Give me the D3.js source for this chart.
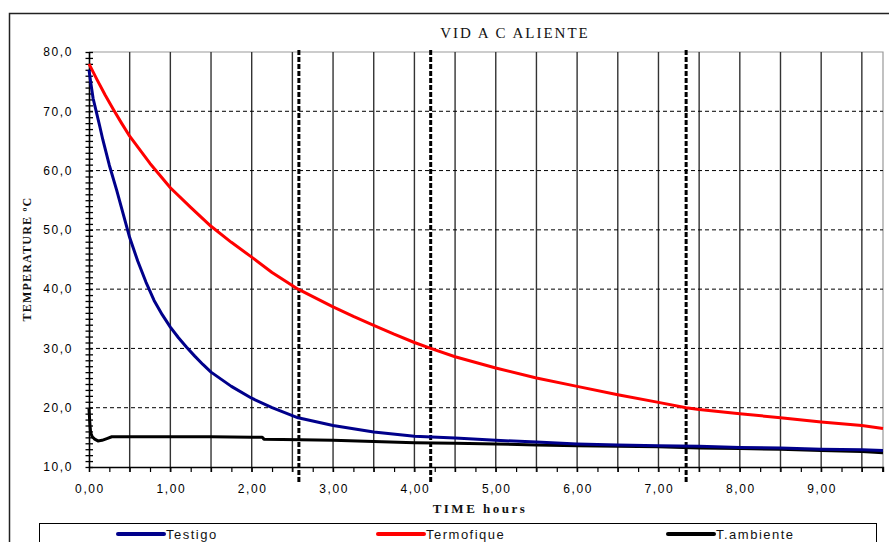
<!DOCTYPE html>
<html>
<head>
<meta charset="utf-8">
<script src="https://cdn.jsdelivr.net/npm/d3@7"></script>
<style>
  body { margin: 0; background: #fff; }
  svg { display: block; }
</style>
</head>
<body>
<svg id="chart" width="889" height="542"></svg>
<script>
const width = 889
const height = 542

// series: time in hours, temperature in ºC
const testigoTime = [0, 0.02, 0.05, 0.09, 0.13, 0.17, 0.25, 0.34, 0.42, 0.5, 0.6, 0.7, 0.8, 0.9, 1.0, 1.1, 1.2, 1.3, 1.4, 1.5, 1.75, 2.0, 2.25, 2.57, 3.0, 3.5, 4.0, 4.5, 5.0, 5.5, 6.0, 6.5, 7.0, 7.5, 8.0, 8.5, 9.0, 9.5, 9.76]
const testigo = [77.0, 75.0, 72.2, 69.9, 67.6, 65.2, 60.9, 56.7, 52.7, 48.7, 44.7, 41.2, 38.1, 35.7, 33.6, 31.8, 30.2, 28.7, 27.3, 26.0, 23.6, 21.6, 20.0, 18.3, 17.0, 15.9, 15.2, 14.9, 14.5, 14.2, 13.9, 13.7, 13.6, 13.5, 13.3, 13.2, 13.0, 12.9, 12.8]

const termofiqueTime = [0, 0.1, 0.2, 0.3, 0.4, 0.5, 0.75, 1.0, 1.25, 1.5, 1.75, 2.0, 2.25, 2.57, 3.0, 3.25, 3.5, 3.75, 4.0, 4.2, 4.5, 5.0, 5.5, 6.0, 6.5, 7.0, 7.34, 7.5, 8.0, 8.5, 9.0, 9.5, 9.76]
const termofique = [78.0, 75.3, 72.7, 70.3, 68.0, 65.8, 61.2, 57.1, 53.8, 50.6, 47.9, 45.4, 42.8, 40.0, 37.0, 35.4, 33.9, 32.4, 31.0, 30.0, 28.6, 26.7, 25.0, 23.6, 22.2, 20.9, 20.0, 19.7, 19.0, 18.3, 17.6, 17.0, 16.5]

const ambienteTime = [0, 0.01, 0.02, 0.04, 0.07, 0.11, 0.16, 0.22, 0.28, 0.5, 1.0, 1.5, 2.0, 2.13, 2.15, 2.6, 3.0, 3.5, 4.0, 4.5, 5.0, 5.5, 6.0, 6.5, 7.0, 7.5, 8.0, 8.5, 9.0, 9.5, 9.76]
const ambiente = [19.8, 17.5, 15.8, 15.1, 14.7, 14.4, 14.5, 14.8, 15.1, 15.1, 15.1, 15.1, 15.0, 15.0, 14.7, 14.6, 14.5, 14.3, 14.1, 14.0, 13.9, 13.7, 13.6, 13.5, 13.4, 13.2, 13.1, 13.0, 12.8, 12.6, 12.4]

// dashed marker lines (hours)
const markerTimes = [2.58, 4.2, 7.34]

const xLabels = [0, 1, 2, 3, 4, 5, 6, 7, 8, 9]
const yLabels = [10, 20, 30, 40, 50, 60, 70, 80]

const series = [
  { name: 'Testigo', color: '#00008b', time: testigoTime, values: testigo, legendX: 118 },
  { name: 'Termofique', color: '#ff0000', time: termofiqueTime, values: termofique, legendX: 378 },
  { name: 'T.ambiente', color: '#000000', time: ambienteTime, values: ambiente, legendX: 668 }
]

const svg = d3.select('svg#chart')

const x = d3.scaleLinear().domain([0, 9.76]).range([89, 883])
const y = d3.scaleLinear().domain([10, 80]).range([467, 52])

const comma = v => v.replace('.', ',')

// outer frame
svg.append('rect')
  .attr('x', 9.5).attr('y', 13.5)
  .attr('width', 900).attr('height', 560)
  .attr('fill', 'none').attr('stroke', '#222').attr('stroke-width', 1.5)

// plot border (top and right)
svg.append('path')
  .attr('d', `M${x(0)},${y(80)}H${x(9.76)}V${y(10)}`)
  .attr('fill', 'none').attr('stroke', '#999').attr('stroke-width', 1.2)

// vertical grid, every half hour
svg.append('g')
  .selectAll('line')
  .data(d3.range(0.5, 9.76, 0.5))
  .join('line')
  .attr('x1', d => x(d)).attr('x2', d => x(d))
  .attr('y1', y(80)).attr('y2', y(10) + 5)
  .attr('stroke', '#333').attr('stroke-width', 1.4)

// horizontal dashed grid
svg.append('g')
  .selectAll('line')
  .data(yLabels.slice(1, -1))
  .join('line')
  .attr('x1', x(0)).attr('x2', x(9.76))
  .attr('y1', d => y(d)).attr('y2', d => y(d))
  .attr('stroke', '#000').attr('stroke-width', 1)
  .attr('stroke-dasharray', '4,3')

// marker lines
svg.append('g')
  .selectAll('line')
  .data(markerTimes)
  .join('line')
  .attr('x1', d => x(d)).attr('x2', d => x(d))
  .attr('y1', y(80) - 2).attr('y2', y(10) + 16)
  .attr('stroke', '#000').attr('stroke-width', 3)
  .attr('stroke-dasharray', '5,2')

// axes
const yAxis = d3.axisLeft(y)
  .tickValues(d3.range(10, 81, 1))
  .tickSize(0)
  .tickFormat('')
const gy = svg.append('g').attr('transform', `translate(${x(0)},0)`).call(yAxis)
gy.select('.domain').attr('stroke', '#000').attr('stroke-width', 1.6)
gy.selectAll('.tick line').attr('x1', -3.5).attr('x2', 4).attr('stroke', '#000').attr('stroke-width', 1.3)

const xAxis = d3.axisBottom(x)
  .tickValues(d3.range(0, 9.76, 0.25))
  .tickSize(5)
  .tickFormat('')
const gx = svg.append('g').attr('transform', `translate(0,${y(10)})`).call(xAxis)
gx.select('.domain').attr('stroke', '#000').attr('stroke-width', 1.4)
gx.selectAll('.tick line').attr('stroke', '#000').attr('stroke-width', 1.2)

// tick labels
svg.append('g')
  .selectAll('text')
  .data(yLabels)
  .join('text')
  .attr('x', 73).attr('y', d => y(d))
  .attr('dy', '0.36em')
  .attr('text-anchor', 'end')
  .attr('font-family', 'Arial, Liberation Sans, sans-serif')
  .attr('font-size', 12)
  .attr('letter-spacing', 1.6)
  .attr('fill', '#000')
  .text(d => comma(d.toFixed(1)))

svg.append('g')
  .selectAll('text')
  .data(xLabels)
  .join('text')
  .attr('x', d => x(d) + 1).attr('y', 493)
  .attr('text-anchor', 'middle')
  .attr('font-family', 'Arial, Liberation Sans, sans-serif')
  .attr('font-size', 12)
  .attr('letter-spacing', 1.6)
  .attr('fill', '#000')
  .text(d => comma(d.toFixed(2)))

// series lines
const line = d3.line()
  .x(d => x(d[0]))
  .y(d => y(d[1]))

svg.append('g')
  .selectAll('path')
  .data(series.slice().reverse())
  .join('path')
  .attr('d', s => line(d3.zip(s.time, s.values)))
  .attr('fill', 'none')
  .attr('stroke', s => s.color)
  .attr('stroke-width', 3)
  .attr('stroke-linejoin', 'round')

// titles
svg.append('text')
  .attr('x', 515).attr('y', 38)
  .attr('text-anchor', 'middle')
  .attr('font-family', 'Liberation Serif, Times New Roman, serif')
  .attr('font-size', 15)
  .attr('letter-spacing', 2)
  .attr('fill', '#111')
  .text('VID A C ALIENTE')

svg.append('text')
  .attr('x', 480).attr('y', 513)
  .attr('text-anchor', 'middle')
  .attr('font-family', 'Liberation Serif, Times New Roman, serif')
  .attr('font-size', 13)
  .attr('font-weight', 'bold')
  .attr('letter-spacing', 2.5)
  .attr('fill', '#111')
  .text('TIME hours')

svg.append('text')
  .attr('transform', 'translate(31,259) rotate(-90)')
  .attr('text-anchor', 'middle')
  .attr('font-family', 'Liberation Serif, Times New Roman, serif')
  .attr('font-size', 12)
  .attr('font-weight', 'bold')
  .attr('letter-spacing', 1.2)
  .attr('fill', '#111')
  .text('TEMPERATURE ºC')

// legend
svg.append('rect')
  .attr('x', 39.5).attr('y', 523.5)
  .attr('width', 837).attr('height', 40)
  .attr('fill', '#fff').attr('stroke', '#000').attr('stroke-width', 1)

const legend = svg.append('g')
  .selectAll('g')
  .data(series)
  .join('g')
  .attr('transform', s => `translate(${s.legendX},534)`)

legend.append('line')
  .attr('x1', 0).attr('x2', 46)
  .attr('stroke', s => s.color)
  .attr('stroke-width', 4)
  .attr('stroke-linecap', 'round')

legend.append('text')
  .attr('x', 48).attr('dy', '0.36em')
  .attr('font-family', 'Arial, Liberation Sans, sans-serif')
  .attr('font-size', 13)
  .attr('letter-spacing', 1.5)
  .attr('fill', '#111')
  .text(s => s.name)
</script>
</body>
</html>
